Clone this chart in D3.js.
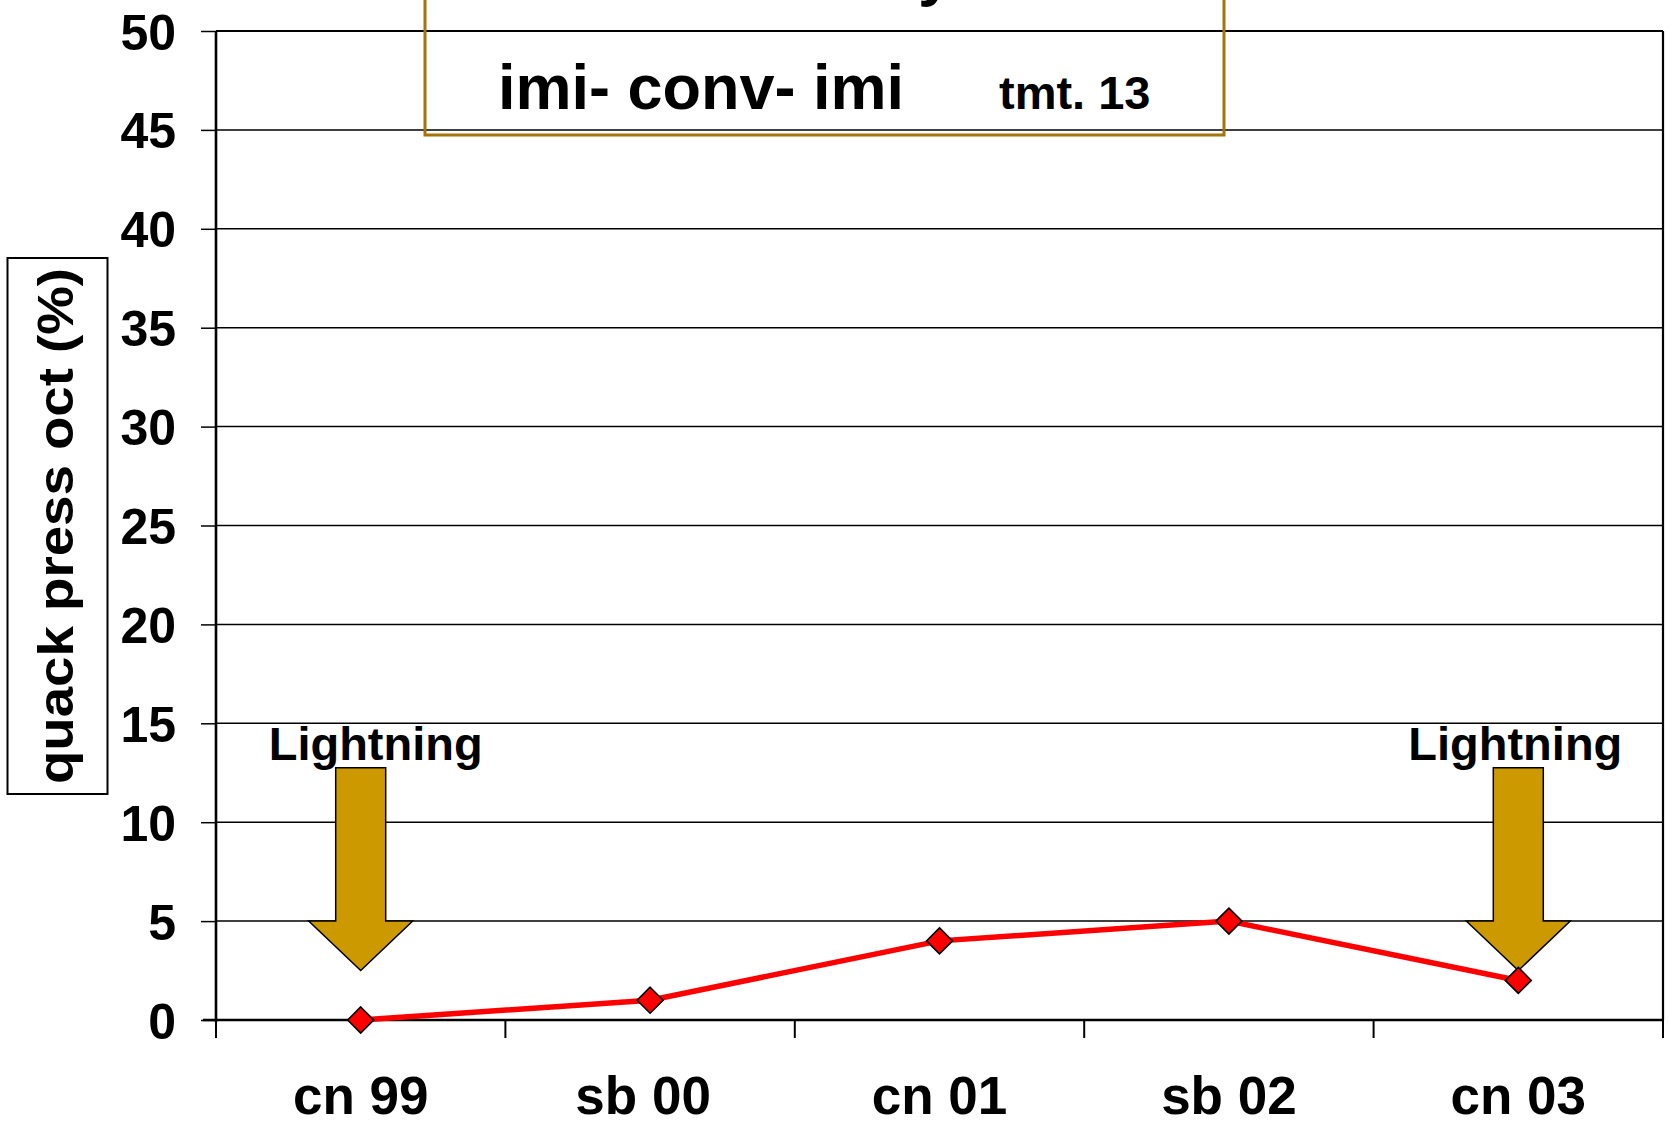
<!DOCTYPE html>
<html>
<head>
<meta charset="utf-8">
<script src="https://cdn.jsdelivr.net/npm/d3@7"></script>
<style>
  html, body { margin: 0; padding: 0; background: #fff; }
  svg { display: block; }
  text { font-family: "Liberation Sans", Arial, sans-serif; font-weight: bold; fill: #000; }
</style>
</head>
<body>
<svg id="chart" width="1669" height="1126"></svg>
<script>
// ---- data ----
const categories = ["cn 99", "sb 00", "cn 01", "sb 02", "cn 03"];
const values = [0, 1, 4, 5, 2];
const yTicks = [0, 5, 10, 15, 20, 25, 30, 35, 40, 45, 50];
const yLabel = "quack press oct (%)";
const titleMain = "imi- conv- imi";
const titleSub = "tmt. 13";
const titleCutOff = "y";
const arrowCategories = ["cn 99", "cn 03"];
const arrowLabel = "Lightning";
const arrowTopValue = 12.75, arrowHeadValue = 5, arrowTipValue = 2.5;

// ---- layout ----
const svg = d3.select("#chart");
svg.append("rect").attr("width", 1669).attr("height", 1126).attr("fill", "#fff");

const x = d3.scaleBand().domain(categories).range([216, 1663]).padding(0);
const y = d3.scaleLinear().domain([0, 50]).range([1020, 31]);
const cx = c => x(c) + x.bandwidth() / 2;

// gridlines
svg.append("g").selectAll("line").data(yTicks.filter(t => t > 0))
  .join("line")
  .attr("x1", 216).attr("x2", 1663)
  .attr("y1", d => y(d)).attr("y2", d => y(d))
  .attr("stroke", "#000").attr("stroke-width", d => d === 50 ? 2.2 : 1.5);

// right border of plot area
svg.append("line").attr("x1", 1663).attr("x2", 1663).attr("y1", y(50)).attr("y2", y(0))
  .attr("stroke", "#000").attr("stroke-width", 2.2);

// y axis
const yAxis = d3.axisLeft(y).tickValues(yTicks).tickSize(15).tickPadding(25).tickFormat(d3.format("d"));
const gy = svg.append("g").attr("transform", "translate(216,0)").call(yAxis);
gy.select(".domain").attr("stroke", "#000").attr("stroke-width", 2.6).attr("d", `M0,${y(50)}V${y(0) + 2}`);
gy.selectAll(".tick line").attr("stroke", "#000").attr("stroke-width", 1.5);
gy.selectAll(".tick text").attr("font-size", 50).attr("font-family", "Liberation Sans, Arial, sans-serif")
  .attr("font-weight", "bold").attr("fill", "#000").attr("dy", "0.36em");

// x axis line
svg.append("line").attr("x1", 203).attr("x2", 1663).attr("y1", y(0)).attr("y2", y(0))
  .attr("stroke", "#000").attr("stroke-width", 2.6);
// x tick marks at category boundaries
const boundaries = categories.map(c => x(c)).concat([x(categories[categories.length - 1]) + x.bandwidth()]);
svg.append("g").selectAll("line").data(boundaries).join("line")
  .attr("x1", d => d).attr("x2", d => d)
  .attr("y1", y(0)).attr("y2", y(0) + 18)
  .attr("stroke", "#000").attr("stroke-width", 2);
// x labels
svg.append("g").selectAll("text").data(categories).join("text")
  .attr("x", (d, i) => cx(d) + (i === 1 ? -7 : 0)).attr("y", 1114)
  .attr("text-anchor", "middle").attr("font-size", 53)
  .text(d => d);

// y label with box
svg.append("rect").attr("x", 7.5).attr("y", 258).attr("width", 100).attr("height", 536)
  .attr("fill", "#fff").attr("stroke", "#000").attr("stroke-width", 2);
svg.append("text")
  .attr("transform", "translate(73,526) rotate(-90)")
  .attr("text-anchor", "middle").attr("font-size", 50)
  .attr("textLength", 516).attr("lengthAdjust", "spacingAndGlyphs")
  .text(yLabel);

// title box (no fill, top cut off)
svg.append("text").attr("x", 918).attr("y", -6).attr("font-size", 63).text(titleCutOff);
svg.append("rect").attr("x", 425).attr("y", -20).attr("width", 799).attr("height", 155)
  .attr("fill", "none").attr("stroke", "#A5740A").attr("stroke-width", 3);
svg.append("text").attr("x", 498).attr("y", 109).attr("font-size", 63).text(titleMain);
svg.append("text").attr("x", 999).attr("y", 109).attr("font-size", 47).text(titleSub);

// arrows
const shaftHalf = 25, headHalf = 52;
const arrowPath = c => {
  const m = cx(c), t = y(arrowTopValue), h = y(arrowHeadValue), p = y(arrowTipValue);
  return `M${m - shaftHalf},${t}H${m + shaftHalf}V${h}H${m + headHalf}L${m},${p}L${m - headHalf},${h}H${m - shaftHalf}Z`;
};
svg.append("g").selectAll("path").data(arrowCategories).join("path")
  .attr("d", arrowPath)
  .attr("fill", "#CC9900").attr("stroke", "#000").attr("stroke-width", 1.5).attr("stroke-linejoin", "miter");
svg.append("g").selectAll("text").data(arrowCategories).join("text")
  .attr("x", (d, i) => cx(d) + (i === 0 ? 15 : -3)).attr("y", 760)
  .attr("text-anchor", "middle").attr("font-size", 47)
  .text(arrowLabel);

// line series
const pts = categories.map((c, i) => ({ c, v: values[i] }));
svg.append("path").datum(pts)
  .attr("d", d3.line().x(d => cx(d.c)).y(d => y(d.v)))
  .attr("fill", "none").attr("stroke", "#FF0000").attr("stroke-width", 5.5);
const r = 13;
svg.append("g").selectAll("path").data(pts).join("path")
  .attr("transform", d => `translate(${cx(d.c)},${y(d.v)})`)
  .attr("d", `M0,${-r}L${r},0L0,${r}L${-r},0Z`)
  .attr("fill", "#FF0000").attr("stroke", "#000").attr("stroke-width", 1.6);
</script>
</body>
</html>
